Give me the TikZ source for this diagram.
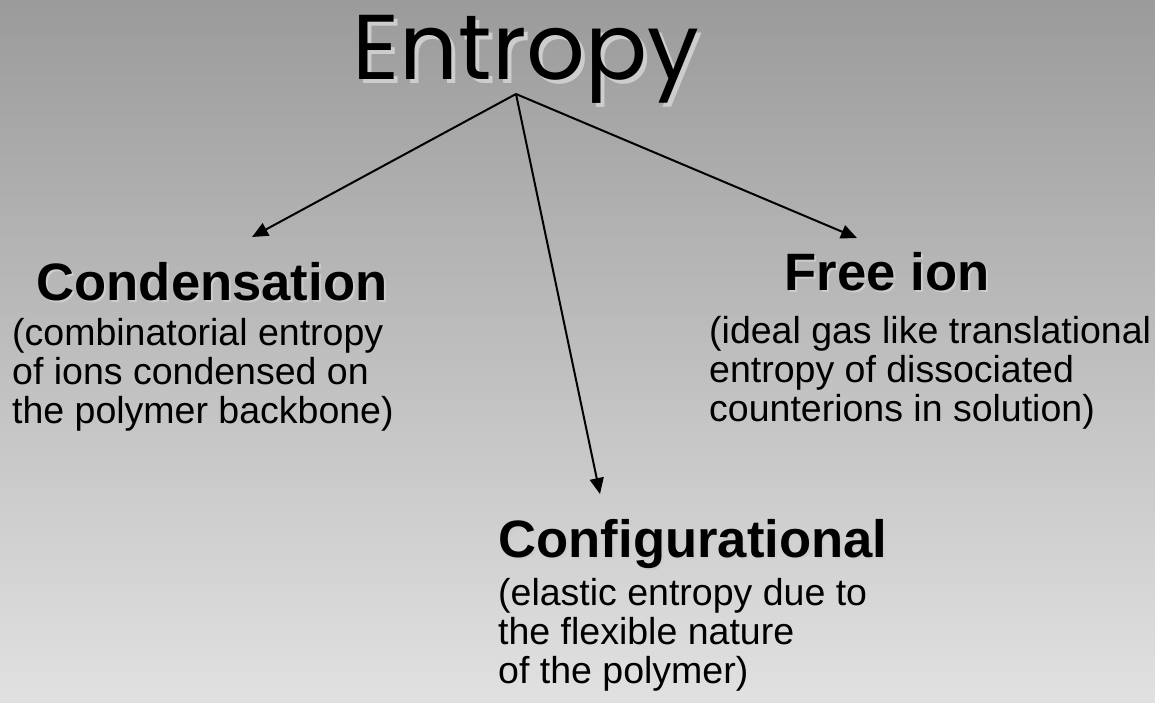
\documentclass[tikz,border=0pt]{standalone}
\usepackage{fontspec}
\setmainfont{Liberation Sans}
\newfontfamily\titlefont{Poppins}
\usetikzlibrary{arrows.meta}

\definecolor{bgtop}{RGB}{155,155,155}
\definecolor{bgbottom}{RGB}{225,225,225}
\definecolor{shadowgray}{RGB}{205,205,205}

\begin{document}
\begin{tikzpicture}[x=1pt, y=-1pt]
  \tikzset{>={Triangle[length=16pt,width=14pt]}}
  \tikzset{head/.style={inner sep=0, anchor=base, font=\fontsize{52.6}{60}\selectfont\bfseries}}
  \tikzset{body/.style={inner sep=0, anchor=base west, align=left, font=\fontsize{37.5}{39}\selectfont}}
  %
  \shade [top color=bgtop, bottom color=bgbottom] (0,0) rectangle (1155,702);
  \useasboundingbox (0,0) rectangle (1155,702);
  %
  \node [inner sep=0, anchor=base, shadowgray, font=\fontsize{92}{96}\titlefont] (titleshadow) at (530,83) {Entropy};
  \node [inner sep=0, anchor=base, font=\fontsize{92}{96}\titlefont] (title) at (526,79) {Entropy};
  %
  \node [head, shadowgray] (condshadow) at (214,302) {Condensation};
  \node [head] (cond) at (212,300) {Condensation};
  \node [body] (condtext) at (12,423) {(combinatorial entropy\\of ions condensed on\\the polymer backbone)};
  %
  \node [head, shadowgray] (freeshadow) at (889,292) {Free ion};
  \node [head] (free) at (887,290) {Free ion};
  \node [body] (freetext) at (709,421) {(ideal gas like translational\\entropy of dissociated\\counterions in solution)};
  %
  \node [head, shadowgray] (confshadow) at (695,559) {Configurational};
  \node [head] (conf) at (693,557) {Configurational};
  \node [body] (conftext) at (498,683) {(elastic entropy due to\\the flexible nature\\of the polymer)};
  %
  \coordinate (hub) at (516,94);
  \coordinate (condtip) at (252,237);
  \coordinate (freetip) at (857,238);
  \coordinate (conftip) at (600,494);
  \foreach \t in {condtip,conftip,freetip} {
    \draw [->, line width=2pt] (hub) -- (\t);
  }
\end{tikzpicture}
\end{document}
